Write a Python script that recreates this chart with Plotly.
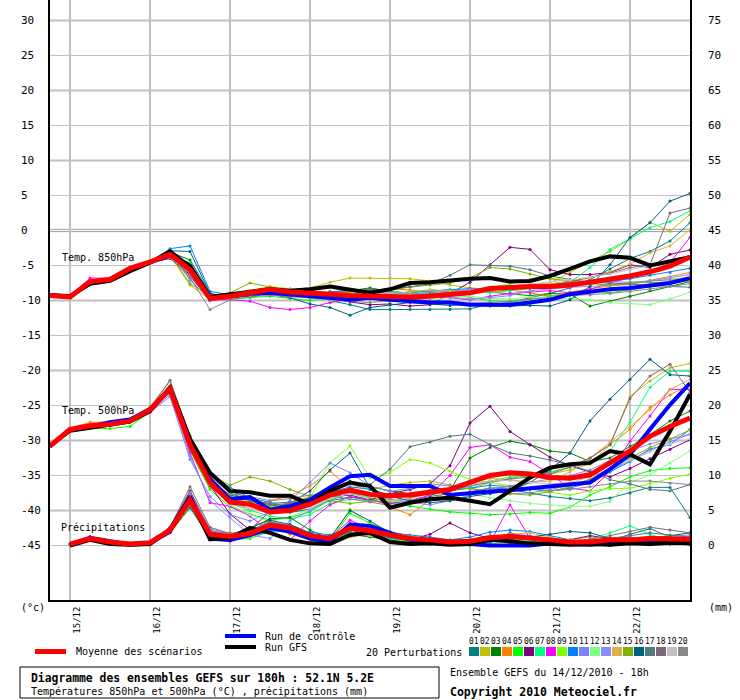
import plotly.graph_objects as go

# forecast steps every 6h from 14/12 18h (run time) to 22/12 18h
hours = list(range(0, 193, 6))
precip_hours = hours[1:]

day_hours = [6, 30, 54, 78, 102, 126, 150, 174]
day_labels = ["15/12", "16/12", "17/12", "18/12", "19/12", "20/12", "21/12", "22/12"]

left_ticks = [30, 25, 20, 15, 10, 5, 0, -5, -10, -15, -20, -25, -30, -35, -40, -45]
right_ticks = [75, 70, 65, 60, 55, 50, 45, 40, 35, 30, 25, 20, 15, 10, 5, 0]

pert_names = ["01", "02", "03", "04", "05", "06", "07", "08", "09", "10",
              "11", "12", "13", "14", "15", "16", "17", "18", "19", "20"]
pert_colors = ["#008080", "#c0c000", "#008000", "#ff8000", "#00ff00",
               "#800080", "#00ff80", "#ff00ff", "#80ff00", "#0080ff",
               "#8080ff", "#80ff80", "#8888ff", "#e0b040", "#80b000",
               "#006080", "#507880", "#806878", "#c0c0c0", "#888888"]

# ---- Temp 850hPa (°C)
t850_mean = [-9.3, -9.5, -7.3, -7.0, -5.4, -4.5, -3.4, -5.6, -9.7, -9.4, -8.9,
             -8.4, -8.8, -8.9, -9.1, -9.3, -9.4, -9.4, -9.5, -9.4, -9.1, -8.9,
             -8.3, -8.1, -8.0, -8.0, -7.8, -7.4, -7.0, -6.5, -5.9, -5.1, -3.8]
t850_ctrl = [-9.3, -9.5, -7.4, -7.0, -5.5, -4.6, -3.6, -5.0, -9.6, -9.4, -9.0,
             -8.9, -9.1, -9.4, -9.6, -9.9, -9.6, -9.9, -10.1, -10.3, -10.3, -10.6,
             -10.6, -10.6, -10.3, -9.9, -9.1, -8.7, -8.4, -8.2, -7.9, -7.5, -6.8]
t850_gfs = [-9.2, -9.4, -7.6, -7.2, -5.8, -4.6, -3.0, -5.2, -9.5, -9.1, -8.7,
            -8.4, -8.6, -8.4, -8.0, -8.4, -8.9, -8.4, -7.5, -7.4, -7.1, -6.9,
            -6.8, -7.3, -7.2, -6.5, -5.5, -4.4, -3.7, -3.9, -5.0, -4.4, -3.8]
t850_perts = [
    [-9.2, -9.4, -7.2, -7.1, -5.5, -4.4, -3.2, -4.8, -9.2, -9.6, -9.0,
     -8.8, -9.2, -9.0, -10.0, -10.6, -11.3, -11.3, -11.3, -11.3, -11.3, -11.2,
     -10.5, -10.3, -9.6, -9.0, -8.2, -7.0, -5.5, -4.0, -3.0, -1.5, 1.1],
    [-9.3, -9.6, -7.4, -7.0, -5.6, -4.6, -3.6, -7.8, -9.9, -9.2, -8.6,
     -8.3, -8.5, -8.2, -7.4, -6.8, -6.8, -6.8, -6.9, -7.2, -7.8, -8.2,
     -8.4, -8.0, -7.8, -7.5, -6.0, -4.4, -3.0, -1.2, 1.2, -0.1, 2.3],
    [-9.4, -9.5, -7.3, -6.9, -5.3, -4.4, -3.1, -4.2, -9.0, -9.6, -9.3,
     -8.9, -9.0, -9.5, -9.3, -8.6, -8.2, -8.7, -9.0, -8.5, -8.7, -8.9,
     -8.8, -9.0, -9.3, -9.0, -9.1, -10.8, -10.1, -9.4, -8.6, -7.9, -7.3],
    [-9.2, -9.5, -7.4, -7.0, -5.4, -4.5, -3.5, -6.0, -9.8, -9.5, -9.2,
     -9.0, -8.7, -8.6, -8.9, -9.2, -8.7, -8.3, -8.5, -8.9, -9.2, -9.0,
     -8.7, -8.5, -8.9, -9.4, -8.8, -8.4, -7.9, -7.7, -7.1, -6.6, -6.0],
    [-9.3, -9.6, -7.5, -7.1, -5.4, -4.6, -3.6, -4.6, -9.6, -9.8, -9.6,
     -9.4, -9.7, -10.0, -9.7, -9.4, -9.8, -10.1, -9.7, -9.4, -9.0, -9.6,
     -10.0, -10.2, -9.8, -9.3, -8.9, -8.6, -8.9, -8.5, -8.1, -7.6, -7.0],
    [-9.3, -9.5, -7.3, -7.0, -5.5, -4.6, -4.0, -6.3, -10.0, -9.7, -9.1,
     -8.8, -9.0, -9.3, -9.7, -10.2, -10.6, -10.5, -10.8, -10.6, -9.0, -7.4,
     -4.9, -2.4, -2.7, -5.6, -6.3, -6.3, -6.0, -4.9, -5.3, -3.4, -2.8],
    [-9.3, -9.5, -7.3, -7.0, -5.4, -4.5, -3.5, -5.2, -9.4, -9.2, -8.7,
     -8.2, -8.6, -9.1, -9.6, -9.2, -8.7, -8.6, -9.0, -8.8, -8.4, -8.6,
     -8.9, -8.6, -8.3, -8.0, -7.4, -5.3, -2.7, -1.2, 0.4, 1.3, 2.8],
    [-9.3, -9.4, -6.8, -6.8, -5.4, -4.5, -3.4, -6.5, -9.9, -9.9, -10.1,
     -11.0, -11.3, -11.0, -10.3, -9.8, -9.5, -9.6, -9.4, -9.2, -9.6, -9.9,
     -9.4, -9.0, -8.8, -8.6, -8.9, -8.4, -7.5, -6.8, -6.0, -4.6, -1.0],
    [-9.2, -9.5, -7.2, -7.0, -5.3, -4.4, -3.3, -4.9, -9.5, -9.4, -8.6,
     -8.0, -8.3, -8.6, -9.3, -9.8, -9.6, -9.2, -8.7, -8.5, -8.8, -9.0,
     -8.2, -7.6, -7.0, -6.8, -7.2, -7.6, -7.8, -7.4, -7.2, -7.0, -6.7],
    [-9.3, -9.5, -7.3, -7.0, -5.4, -4.5, -2.6, -2.2, -8.7, -9.2, -8.9,
     -8.5, -8.9, -9.2, -8.8, -8.5, -8.8, -9.0, -8.8, -8.6, -8.5, -8.3,
     -8.5, -8.2, -8.0, -7.8, -7.6, -7.5, -7.2, -6.9, -6.4, -6.0, -5.4],
    [-9.3, -9.5, -7.3, -7.0, -5.5, -4.4, -3.0, -7.1, -9.9, -9.4, -8.8,
     -8.6, -9.4, -9.0, -8.9, -8.7, -9.0, -9.2, -9.1, -8.9, -8.6, -8.4,
     -8.2, -8.3, -8.0, -7.7, -7.4, -7.5, -7.3, -7.4, -7.2, -7.0, -6.9],
    [-9.3, -9.5, -7.3, -7.0, -5.4, -4.5, -3.5, -5.8, -9.7, -9.5, -9.2,
     -8.9, -9.3, -9.7, -10.0, -9.8, -9.6, -9.9, -10.2, -10.0, -9.6, -9.4,
     -9.7, -9.8, -9.5, -9.6, -9.7, -9.9, -10.3, -10.5, -10.6, -9.8, -8.8],
    [-9.3, -9.5, -7.3, -7.0, -5.4, -4.5, -2.8, -6.9, -9.6, -9.3, -9.1,
     -8.7, -8.9, -9.0, -9.2, -9.4, -9.2, -8.9, -9.1, -9.3, -9.6, -9.8,
     -9.6, -9.3, -8.6, -8.3, -8.1, -8.0, -7.8, -7.6, -7.2, -6.7, -6.3],
    [-9.3, -9.5, -7.3, -7.0, -5.4, -4.5, -3.4, -6.2, -9.8, -9.3, -9.0,
     -8.6, -8.5, -8.8, -9.0, -8.7, -8.8, -9.0, -8.8, -8.5, -8.6, -8.8,
     -8.4, -8.0, -7.8, -7.6, -7.2, -6.8, -5.9, -4.8, -3.2, -2.2, 0.1],
    [-9.3, -9.5, -7.3, -7.0, -5.4, -4.5, -3.4, -7.6, -9.3, -8.9, -7.5,
     -8.1, -8.6, -9.0, -9.2, -8.8, -8.5, -8.4, -8.1, -7.8, -7.5, -6.8,
     -5.3, -5.5, -6.2, -6.9, -7.3, -7.6, -7.8, -7.5, -7.4, -7.3, -7.3],
    [-9.3, -9.5, -7.3, -7.0, -5.4, -4.5, -2.9, -3.0, -9.0, -9.6, -9.4,
     -9.1, -9.6, -10.5, -11.0, -12.1, -11.0, -10.6, -10.3, -10.5, -10.7, -10.6,
     -10.8, -10.8, -10.7, -10.8, -9.9, -8.0, -4.9, -1.0, 1.1, 4.2, 5.3],
    [-9.3, -9.5, -7.3, -7.0, -5.4, -4.5, -3.4, -6.0, -9.6, -9.3, -9.0,
     -8.8, -9.2, -9.0, -8.7, -8.5, -8.4, -8.5, -8.0, -7.6, -6.4, -4.9,
     -5.0, -5.1, -5.6, -6.5, -7.0, -7.4, -7.5, -7.7, -7.8, -8.0, -8.1],
    [-9.3, -9.5, -7.3, -7.0, -5.4, -4.5, -3.5, -6.5, -10.0, -9.6, -9.1,
     -9.2, -9.5, -9.4, -9.6, -9.5, -9.2, -9.1, -9.3, -9.0, -8.9, -8.7,
     -8.5, -8.3, -8.2, -7.9, -7.3, -6.7, -6.1, -5.3, -4.9, 2.5, 3.2],
    [-9.3, -9.5, -7.3, -7.0, -5.4, -4.5, -3.5, -5.7, -9.6, -9.4, -8.7,
     -8.2, -8.4, -8.8, -9.2, -9.0, -8.9, -9.1, -9.2, -9.3, -8.9, -8.6,
     -8.2, -7.9, -7.6, -7.4, -7.1, -6.7, -6.2, -5.6, -5.0, -4.6, -4.1],
    [-9.3, -9.5, -7.3, -7.0, -5.4, -4.5, -3.9, -6.7, -11.3, -9.9, -9.5,
     -9.2, -9.4, -9.7, -9.9, -10.1, -10.3, -10.0, -9.8, -10.0, -10.2, -10.4,
     -10.3, -10.1, -9.8, -9.6, -9.3, -9.2, -9.0, -8.7, -8.4, -8.0, -7.6],
]

# ---- Temp 500hPa (°C)
t500_mean = [-30.8, -28.4, -27.9, -27.7, -27.2, -25.6, -22.6, -30.6, -36.0, -38.8, -39.1,
             -40.2, -40.0, -39.1, -37.8, -37.1, -37.7, -37.9, -37.8, -37.4, -37.0, -36.0,
             -35.0, -34.6, -34.8, -35.3, -35.4, -34.9, -33.2, -31.5, -29.4, -28.0, -26.8]
t500_ctrl = [-30.8, -28.5, -28.0, -27.4, -27.0, -25.5, -22.8, -30.0, -35.5, -38.4, -38.1,
             -39.9, -39.4, -38.5, -36.7, -35.1, -34.9, -36.5, -36.5, -36.5, -37.8, -37.5,
             -37.3, -37.1, -36.8, -36.5, -36.3, -36.0, -34.1, -32.0, -28.4, -24.9, -21.8]
t500_gfs = [-30.7, -28.6, -28.2, -27.8, -27.3, -25.8, -22.4, -29.8, -34.6, -37.2, -37.4,
            -37.9, -37.9, -39.1, -37.2, -36.0, -36.5, -39.6, -38.9, -38.4, -38.2, -38.6,
            -39.1, -37.2, -35.3, -33.9, -33.4, -33.2, -31.5, -32.0, -33.4, -28.7, -23.4]
t500_perts = [
    [-30.8, -28.3, -27.8, -27.5, -27.1, -25.4, -22.3, -30.0, -35.0, -37.5, -38.6,
     -39.5, -40.3, -39.8, -38.6, -38.1, -38.5, -39.0, -38.6, -38.0, -37.6, -37.4,
     -36.8, -37.0, -37.5, -38.0, -38.3, -38.6, -38.2, -37.5, -36.7, -36.7, -41.0],
    [-30.8, -28.5, -28.0, -27.6, -27.1, -25.5, -22.5, -31.0, -36.5, -39.0, -38.2,
     -39.6, -39.0, -38.0, -36.7, -36.2, -37.0, -36.4, -36.0, -35.8, -36.3, -36.9,
     -36.0, -35.4, -35.0, -34.8, -34.2, -33.4, -30.6, -23.7, -21.5, -19.6, -19.0],
    [-30.8, -28.4, -28.0, -27.8, -27.3, -25.7, -22.8, -30.3, -35.6, -37.8, -38.4,
     -39.2, -39.6, -39.0, -37.9, -35.8, -36.6, -37.2, -37.6, -37.8, -37.1, -32.5,
     -31.0, -30.1, -30.6, -31.5, -31.8, -33.0, -32.5, -30.8, -29.2, -27.2, -25.8],
    [-30.8, -28.3, -27.4, -27.4, -27.2, -25.6, -22.7, -31.4, -36.8, -38.6, -39.8,
     -38.6, -37.9, -36.5, -34.4, -36.8, -38.2, -39.5, -40.6, -38.5, -37.2, -36.1,
     -35.2, -34.7, -35.2, -34.6, -33.8, -32.5, -30.6, -28.4, -25.3, -23.5, -22.0],
    [-30.8, -28.5, -28.3, -28.3, -28.0, -25.9, -22.9, -31.5, -37.0, -39.5, -40.5,
     -41.4, -41.0, -40.2, -38.5, -37.6, -38.2, -38.8, -39.4, -39.8, -40.2, -40.4,
     -40.6, -40.5, -40.3, -40.4, -39.5, -37.8, -36.6, -35.2, -34.3, -34.0, -33.9],
    [-30.8, -28.4, -27.9, -27.6, -27.1, -25.5, -22.5, -30.8, -36.4, -40.5, -42.8,
     -40.1, -39.4, -39.0, -38.0, -37.8, -38.5, -37.6, -37.0, -36.2, -33.6, -27.5,
     -25.1, -28.7, -30.6, -32.4, -33.6, -34.5, -35.2, -34.0, -32.6, -31.3, -29.9],
    [-30.8, -28.4, -27.9, -27.7, -27.2, -25.6, -22.6, -30.9, -36.2, -39.0, -40.0,
     -40.8, -41.2, -40.6, -39.0, -38.4, -38.6, -38.9, -38.2, -37.5, -37.0, -36.6,
     -35.8, -35.2, -35.0, -34.5, -33.8, -33.0, -31.5, -27.4, -22.4, -20.1, -20.1],
    [-30.8, -28.4, -27.9, -27.6, -27.2, -25.8, -23.0, -31.8, -38.9, -39.4, -40.8,
     -43.0, -44.2, -41.5, -39.2, -38.0, -38.5, -39.0, -38.6, -37.8, -35.0, -31.0,
     -30.6, -32.4, -33.0, -34.8, -36.8, -37.2, -34.4, -30.1, -26.5, -22.7, -22.7],
    [-30.8, -28.3, -27.8, -27.5, -27.0, -25.3, -22.4, -30.4, -35.8, -38.0, -38.8,
     -39.4, -39.9, -38.2, -33.2, -30.8, -35.3, -34.6, -32.7, -33.2, -34.4, -35.6,
     -36.0, -36.5, -37.0, -37.4, -37.8, -37.2, -36.9, -36.8, -36.2, -35.4, -34.8],
    [-30.8, -28.4, -27.9, -27.6, -27.1, -25.5, -22.7, -30.0, -34.8, -36.7, -38.2,
     -38.8, -39.5, -38.8, -37.5, -36.6, -37.0, -37.8, -38.0, -37.6, -37.2, -36.8,
     -36.4, -36.6, -36.9, -37.2, -36.8, -36.0, -34.5, -33.0, -31.2, -30.6, -28.4],
    [-30.8, -28.4, -28.0, -27.8, -27.4, -26.0, -23.7, -32.7, -38.0, -40.6, -41.5,
     -40.2, -38.6, -36.0, -33.2, -34.6, -36.5, -37.3, -36.8, -36.2, -36.5, -36.8,
     -37.2, -37.6, -37.5, -37.0, -36.4, -35.6, -34.3, -32.8, -31.4, -30.2, -29.1],
    [-30.8, -28.4, -27.9, -27.7, -27.2, -25.6, -22.6, -30.7, -36.2, -39.2, -40.6,
     -41.6, -40.9, -39.8, -38.2, -37.0, -37.6, -38.5, -39.0, -38.5, -38.0, -37.7,
     -38.2, -38.6, -39.0, -39.2, -39.4, -39.4, -38.7, -36.0, -34.9, -33.2, -31.5],
    [-30.8, -28.5, -28.0, -27.7, -27.2, -25.9, -23.4, -32.2, -38.6, -41.0, -43.5,
     -44.0, -41.5, -40.0, -38.4, -37.5, -38.0, -38.4, -38.8, -39.2, -38.6, -37.8,
     -37.0, -36.5, -36.0, -35.4, -35.0, -34.2, -32.8, -31.5, -30.5, -29.8, -29.1],
    [-30.8, -28.3, -27.6, -27.5, -27.0, -25.5, -22.5, -30.5, -35.8, -38.4, -39.0,
     -39.8, -39.6, -38.8, -37.6, -37.3, -37.9, -38.6, -38.3, -37.6, -36.8, -35.9,
     -35.4, -35.6, -36.0, -35.8, -34.5, -32.6, -30.2, -28.0, -25.6, -22.7, -21.3],
    [-30.8, -28.4, -27.9, -27.6, -27.1, -25.4, -22.4, -30.2, -34.9, -36.4, -35.2,
     -35.8, -37.0, -38.0, -38.6, -39.0, -38.7, -38.1, -37.5, -37.1, -36.8, -36.9,
     -37.3, -37.6, -37.8, -37.3, -36.6, -35.5, -34.0, -32.5, -31.0, -29.8, -28.5],
    [-30.8, -28.4, -27.9, -27.6, -27.1, -25.5, -22.6, -30.6, -35.9, -38.4, -39.2,
     -39.8, -39.0, -37.2, -34.2, -31.8, -36.8, -38.0, -38.6, -38.9, -38.6, -38.0,
     -37.6, -37.2, -36.0, -34.2, -31.8, -27.2, -24.1, -21.3, -18.4, -20.6, -20.8],
    [-30.8, -28.4, -27.9, -27.6, -27.1, -25.5, -22.5, -30.4, -35.4, -38.0, -38.6,
     -39.0, -38.8, -38.2, -37.4, -36.8, -36.3, -34.1, -30.9, -30.2, -29.4, -29.1,
     -30.6, -31.8, -32.2, -32.8, -33.5, -34.4, -35.6, -36.2, -37.0, -37.2, -36.3],
    [-30.8, -28.3, -27.8, -27.5, -27.0, -25.3, -21.4, -29.4, -34.6, -37.2, -38.3,
     -39.2, -39.0, -38.4, -37.8, -37.4, -37.8, -38.2, -37.9, -37.4, -37.0, -36.4,
     -35.9, -35.5, -35.2, -34.8, -33.8, -32.5, -30.6, -24.0, -20.8, -19.1, -23.1],
    [-30.8, -28.4, -27.9, -27.6, -27.2, -25.6, -22.7, -30.8, -36.3, -39.1, -39.7,
     -40.5, -40.2, -39.5, -38.3, -37.6, -38.0, -38.1, -37.9, -37.6, -37.0, -36.3,
     -35.8, -35.7, -36.0, -36.2, -36.0, -35.2, -34.0, -32.8, -31.6, -30.5, -29.8],
    [-30.8, -28.4, -27.9, -27.6, -27.1, -25.4, -21.5, -29.6, -35.0, -37.6, -38.0,
     -38.6, -38.3, -37.8, -37.9, -38.3, -38.8, -39.3, -39.0, -38.4, -37.9, -37.3,
     -36.8, -36.6, -36.9, -37.2, -37.0, -36.6, -36.2, -35.8, -35.8, -36.1, -36.3],
]

# ---- Précipitations (mm), starting at 15/12 00h
rr_mean = [0.2, 1.0, 0.5, 0.2, 0.4, 2.2, 6.5, 1.6, 1.3, 1.7, 2.9,
           2.5, 1.4, 1.0, 2.5, 2.1, 1.5, 1.0, 0.8, 0.5, 0.6, 1.1,
           1.3, 1.1, 0.8, 0.5, 0.5, 0.8, 0.8, 1.0, 1.0, 0.9]
rr_ctrl = [0.1, 1.1, 0.6, 0.1, 0.3, 2.0, 7.0, 1.0, 0.8, 1.5, 2.5,
           2.0, 1.0, 0.5, 3.0, 2.8, 1.8, 0.8, 0.4, 0.2, 0.2, 0.0,
           0.0, 0.0, 0.3, 0.2, 0.1, 0.3, 0.5, 0.6, 0.5, 0.4]
rr_gfs = [0.0, 0.8, 0.2, 0.1, 0.2, 2.3, 6.8, 0.9, 1.0, 2.5, 1.8,
          0.8, 0.3, 0.2, 1.5, 1.8, 0.5, 0.2, 0.3, 0.1, 0.2, 0.8,
          0.6, 0.3, 0.2, 0.1, 0.2, 0.1, 0.3, 0.2, 0.4, 0.3]
rr_perts = [
    [0.2, 1.0, 0.4, 0.1, 0.3, 2.0, 6.0, 1.2, 0.9, 1.4, 2.2,
     3.0, 1.8, 0.8, 2.0, 2.8, 1.2, 0.6, 0.3, 0.2, 0.0, 0.4,
     1.8, 1.0, 0.5, 0.3, 0.2, 0.6, 1.6, 2.4, 1.2, 0.7],
    [0.2, 1.1, 0.5, 0.2, 0.4, 2.4, 7.2, 1.8, 1.0, 2.0, 3.5,
     2.2, 0.9, 0.5, 1.2, 1.8, 1.0, 0.5, 0.6, 0.4, 0.8, 1.5,
     0.9, 0.6, 0.5, 0.8, 1.2, 1.0, 0.4, 0.2, 0.3, 0.5],
    [0.1, 0.9, 0.4, 0.2, 0.3, 1.8, 5.4, 1.0, 1.5, 2.4, 3.8,
     4.0, 2.2, 0.9, 1.6, 1.2, 0.8, 0.4, 0.2, 0.3, 0.6, 0.2,
     0.1, 0.3, 0.4, 0.2, 0.1, 0.0, 0.2, 0.4, 0.6, 0.5],
    [0.2, 1.0, 0.5, 0.3, 0.4, 2.2, 6.6, 2.0, 1.8, 1.5, 2.5,
     1.6, 0.8, 0.6, 3.2, 2.6, 1.8, 1.2, 0.7, 0.5, 0.2, 0.8,
     1.5, 1.0, 0.6, 0.4, 0.3, 0.2, 0.5, 0.9, 1.2, 1.0],
    [0.2, 0.9, 0.5, 0.2, 0.4, 2.0, 6.2, 1.4, 0.8, 1.0, 2.0,
     2.6, 1.5, 0.7, 4.6, 3.2, 2.0, 1.0, 0.6, 0.3, 0.1, 0.0,
     0.2, 0.4, 0.3, 0.1, 0.0, 0.2, 0.4, 0.3, 0.2, 0.4],
    [0.2, 1.0, 0.6, 0.2, 0.5, 2.6, 7.8, 2.2, 1.2, 1.8, 2.8,
     1.8, 1.0, 1.4, 2.2, 1.6, 1.0, 0.8, 1.6, 3.2, 1.8, 1.0,
     0.4, 0.2, 0.5, 0.8, 1.4, 1.0, 0.6, 0.4, 0.2, 0.1],
    [0.2, 1.1, 0.5, 0.2, 0.4, 2.3, 6.8, 1.6, 1.4, 2.2, 3.2,
     2.8, 1.2, 0.8, 1.8, 1.4, 0.9, 0.6, 0.4, 0.6, 0.9, 0.6,
     0.5, 0.3, 0.2, 0.3, 0.8, 1.8, 2.8, 1.6, 0.6, 0.4],
    [0.2, 1.3, 0.6, 0.2, 0.4, 2.1, 5.8, 0.8, 0.6, 1.6, 2.4,
     2.0, 1.6, 1.2, 3.6, 2.4, 1.6, 0.9, 0.6, 0.3, 0.2, 0.4,
     5.8, 1.0, 0.4, 0.2, 0.5, 0.9, 1.2, 0.6, 0.3, 0.2],
    [0.2, 1.0, 0.5, 0.2, 0.4, 2.2, 6.4, 1.3, 1.1, 1.9, 3.0,
     2.4, 1.1, 0.6, 5.2, 3.0, 1.5, 0.7, 0.4, 0.2, 0.5, 1.0,
     1.2, 0.8, 0.5, 0.3, 0.4, 0.6, 0.8, 1.1, 1.4, 1.2],
    [0.2, 1.0, 0.5, 0.2, 0.4, 2.1, 6.3, 1.5, 1.0, 1.3, 2.0,
     2.2, 1.9, 1.5, 2.6, 2.2, 1.8, 1.5, 1.2, 0.8, 1.2, 1.9,
     2.2, 2.0, 1.4, 0.8, 0.5, 0.4, 0.3, 0.6, 0.8, 0.7],
    [0.2, 1.0, 0.5, 0.2, 0.4, 2.5, 7.4, 2.4, 1.6, 2.1, 3.4,
     2.9, 1.4, 1.0, 2.8, 2.4, 1.4, 0.8, 0.5, 0.3, 0.6, 0.9,
     1.0, 0.7, 0.5, 0.4, 0.6, 0.8, 0.7, 0.9, 1.3, 1.5],
    [0.2, 1.0, 0.5, 0.2, 0.4, 2.2, 6.6, 1.7, 1.3, 1.6, 2.6,
     2.3, 1.2, 0.7, 3.0, 2.0, 1.4, 1.0, 0.5, 0.3, 0.1, 0.3,
     0.6, 0.8, 1.0, 0.8, 0.6, 0.3, 0.2, 0.4, 0.5, 0.6],
    [0.2, 1.0, 0.5, 0.2, 0.4, 2.4, 7.0, 2.0, 1.4, 2.0, 3.1,
     2.6, 1.5, 1.0, 2.3, 1.9, 1.3, 1.1, 0.9, 0.6, 0.7, 1.2,
     1.6, 1.4, 1.0, 0.6, 0.4, 0.5, 0.7, 0.9, 1.1, 1.0],
    [0.2, 1.0, 0.5, 0.2, 0.4, 2.0, 6.1, 1.1, 0.9, 1.2, 2.4,
     2.0, 1.0, 0.5, 1.6, 1.4, 1.2, 0.9, 0.6, 0.4, 0.5, 1.0,
     1.6, 1.8, 1.2, 0.6, 0.4, 0.3, 0.5, 0.8, 1.0, 1.2],
    [0.2, 1.0, 0.5, 0.2, 0.4, 2.1, 6.0, 1.4, 1.2, 1.7, 2.7,
     2.5, 1.3, 0.9, 2.2, 2.6, 1.9, 1.3, 0.9, 0.6, 0.8, 1.2,
     1.4, 1.1, 0.7, 0.5, 0.4, 0.6, 1.0, 1.3, 1.2, 1.0],
    [0.2, 1.0, 0.5, 0.2, 0.4, 2.3, 6.9, 1.9, 1.5, 2.5, 3.6,
     3.0, 1.7, 1.1, 5.0, 3.5, 1.8, 1.0, 0.6, 0.4, 0.3, 0.5,
     0.8, 1.2, 1.6, 2.0, 1.8, 1.0, 0.6, 0.8, 1.4, 1.8],
    [0.2, 1.0, 0.5, 0.2, 0.4, 2.0, 5.6, 1.2, 0.9, 1.4, 2.2,
     2.0, 1.2, 0.8, 1.9, 1.7, 1.1, 0.7, 0.5, 0.3, 0.4, 0.7,
     1.0, 0.9, 0.6, 0.4, 0.6, 1.0, 1.4, 1.8, 1.5, 1.2],
    [0.2, 1.0, 0.5, 0.2, 0.4, 2.6, 8.4, 2.6, 1.7, 2.2, 3.3,
     2.8, 1.6, 1.2, 2.7, 2.3, 1.6, 1.0, 0.7, 0.5, 0.6, 0.9,
     1.1, 1.0, 0.7, 0.6, 0.9, 1.4, 2.0, 2.6, 2.2, 1.8],
    [0.2, 1.0, 0.5, 0.2, 0.4, 2.2, 6.7, 1.6, 1.2, 1.8, 2.8,
     2.4, 1.3, 0.9, 2.4, 2.0, 1.4, 0.9, 0.6, 0.4, 0.5, 0.8,
     1.0, 0.9, 0.6, 0.4, 0.4, 0.6, 0.7, 0.9, 1.0, 0.9],
    [0.2, 1.0, 0.5, 0.2, 0.4, 2.4, 7.6, 2.1, 1.6, 2.0, 3.1,
     2.7, 1.5, 1.0, 2.6, 2.2, 1.5, 1.0, 0.7, 0.5, 0.6, 0.9,
     1.2, 1.1, 0.8, 0.5, 0.5, 0.7, 0.8, 1.0, 1.1, 1.0],
]

MONO = "DejaVu Sans Mono"
# plot area is 640x600 px, left/top at (50, 0)
def px(x):
    return (x - 50) / 640

def py(y):
    return (600 - y) / 600

fig = go.Figure()

groups = [
    (hours, t850_perts, t850_ctrl, t850_gfs, t850_mean, "y"),
    (hours, t500_perts, t500_ctrl, t500_gfs, t500_mean, "y"),
    (precip_hours, rr_perts, rr_ctrl, rr_gfs, rr_mean, "y2"),
]
for xs, perts, ctrl, gfs, mean, yax in groups:
    for vals, col in zip(perts, pert_colors):
        fig.add_trace(go.Scatter(x=xs, y=vals, yaxis=yax, mode="lines+markers",
                                 line=dict(color=col, width=1),
                                 marker=dict(color=col, size=3)))
    fig.add_trace(go.Scatter(x=xs, y=ctrl, yaxis=yax, mode="lines",
                             line=dict(color="#0000ff", width=4)))
    fig.add_trace(go.Scatter(x=xs, y=gfs, yaxis=yax, mode="lines",
                             line=dict(color="#000000", width=4)))
    fig.add_trace(go.Scatter(x=xs, y=mean, yaxis=yax, mode="lines",
                             line=dict(color="#ff0000", width=5)))

shapes = []
# horizontal grid
for v in left_ticks:
    if v == 0:
        for off in (-0.16, 0.16):
            shapes.append(dict(type="line", xref="paper", yref="y", x0=0, x1=1,
                               y0=v + off, y1=v + off, layer="below",
                               line=dict(color="#999999", width=1)))
    else:
        shapes.append(dict(type="line", xref="paper", yref="y", x0=0, x1=1,
                           y0=v, y1=v, layer="below",
                           line=dict(color="#c0c0c0", width=2 if v % 10 == 0 else 1)))

annotations = []
for v in left_ticks:
    annotations.append(dict(x=px(19), y=v, xref="paper", yref="y", text=str(v),
                            showarrow=False, xanchor="left", yanchor="middle",
                            font=dict(family=MONO, size=11, color="black")))

def label(x, y, text, size=10, anchor="left", bold=False):
    annotations.append(dict(x=px(x), y=py(y), xref="paper", yref="paper",
                            text=f"<b>{text}</b>" if bold else text,
                            showarrow=False, xanchor=anchor, yanchor="middle",
                            font=dict(family=MONO, size=size, color="black")))

label(60, 257.5, "Temp. 850hPa")
label(60, 410, "Temp. 500hPa")
label(59, 527.5, "Précipitations")
label(19, 607, "(°c)")
label(707, 607, "(mm)")

# legend block
shapes.append(dict(type="line", xref="paper", yref="paper", x0=px(35), x1=px(66),
                   y0=py(651.5), y1=py(651.5), line=dict(color="#ff0000", width=5)))
label(74, 651.5, "Moyenne des scénarios")
shapes.append(dict(type="line", xref="paper", yref="paper", x0=px(225), x1=px(256),
                   y0=py(636), y1=py(636), line=dict(color="#0000ff", width=4)))
label(263, 636, "Run de contrôle")
shapes.append(dict(type="line", xref="paper", yref="paper", x0=px(225), x1=px(256),
                   y0=py(647), y1=py(647), line=dict(color="#000000", width=4)))
label(263, 647, "Run GFS")
label(464, 652, "20 Perturbations", anchor="right")
for i, (name, col) in enumerate(zip(pert_names, pert_colors)):
    x0 = 469 + 11 * i
    shapes.append(dict(type="rect", xref="paper", yref="paper", x0=px(x0), x1=px(x0 + 10),
                       y0=py(656), y1=py(647), fillcolor=col, line=dict(width=0)))
    label(x0 + 5, 641, name, size=8, anchor="center")

shapes.append(dict(type="rect", xref="paper", yref="paper", x0=px(20), x1=px(439),
                   y0=py(698), y1=py(667), line=dict(color="black", width=1)))
label(29, 677.5, "Diagramme des ensembles GEFS sur 180h : 52.1N 5.2E", size=11.4, bold=True)
label(29, 691, "Températures 850hPa et 500hPa (°C) , précipitations (mm)")
label(448, 672, "Ensemble GEFS du 14/12/2010 - 18h")
label(448, 692, "Copyright 2010 Meteociel.fr", size=11.5, bold=True)

y_lo, y_hi = -52.79, 32.93
fig.update_layout(
    width=740, height=700,
    margin=dict(l=50, r=50, t=0, b=100),
    paper_bgcolor="white", plot_bgcolor="white",
    showlegend=False, hovermode=False,
    shapes=shapes, annotations=annotations,
    xaxis=dict(range=[0, 192], tickvals=day_hours, ticktext=day_labels,
               tickangle=-90, ticklabelshift=7, ticklabelstandoff=1,
               tickfont=dict(family=MONO, size=9, color="black"),
               showgrid=True, gridcolor="#c0c0c0", gridwidth=2, zeroline=False,
               showline=True, linecolor="black", linewidth=2, ticks=""),
    yaxis=dict(range=[y_lo, y_hi], showgrid=False, zeroline=False,
               showticklabels=False, showline=True, mirror=True,
               linecolor="black", linewidth=2, ticks=""),
    yaxis2=dict(range=[y_lo + 45, y_hi + 45], overlaying="y", side="right",
                tickvals=right_ticks, showgrid=False, zeroline=False,
                showline=False, ticks="", ticklabelstandoff=17,
                tickfont=dict(family=MONO, size=11, color="black")),
)

# page body margin removed so the 740x700 figure sits at the window's corner
fig.write_html("out.html", config={"displayModeBar": False},
               post_script="document.body.style.margin='0px';")
